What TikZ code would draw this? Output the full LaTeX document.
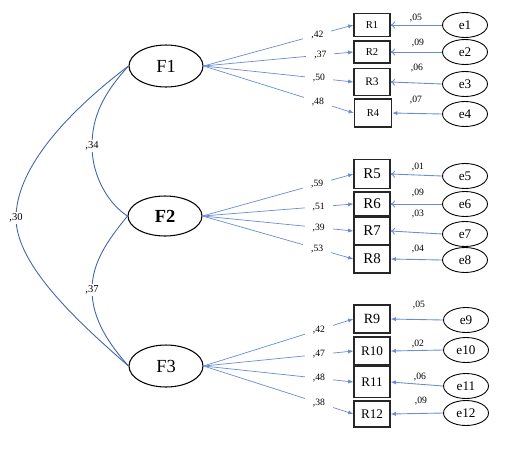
\documentclass[tikz,border=0pt]{standalone}
\usepackage{fontspec}
\setmainfont{Liberation Serif}
\usetikzlibrary{arrows.meta,shapes.geometric}
\definecolor{loadblue}{RGB}{105,140,215}
\definecolor{covblue}{RGB}{65,100,170}
\begin{document}
\begin{tikzpicture}[
    x=0.02cm, y=-0.02cm,
    factor/.style={ellipse, draw, line width=0.6pt, minimum width=1.48cm, minimum height=0.84cm, inner sep=0pt, font=\fontsize{10.5}{12}\selectfont},
    item/.style={rectangle, draw=black!85, line width=0.7pt, minimum width=0.72cm, minimum height=0.54cm, inner sep=0pt},
    err/.style={ellipse, draw, line width=0.5pt, minimum width=0.9cm, minimum height=0.5cm, inner sep=0pt, font=\fontsize{7.5}{9}\selectfont},
    coef/.style={fill=white, inner sep=1pt, font=\fontsize{5.5}{6}\selectfont},
    lcoef/.style={coef, inner xsep=4.5pt},
    load/.style={draw=loadblue, line width=0.4pt, -{Latex[length=3pt,width=2.4pt]}},
    errarr/.style={draw=loadblue, line width=0.5pt, -{Latex[length=3pt,width=2.4pt]}},
    errarro/.style={draw=loadblue, line width=0.5pt, -{To[length=2.5pt,width=4pt]}},
    cov/.style={draw=covblue, line width=0.5pt}
]
\useasboundingbox (0,0) rectangle (523,450);

% Faktoren
\node[factor] at (166,66) (F1) {F1};
\node[factor, minimum height=0.8cm, font=\fontsize{10.5}{12}\selectfont\bfseries] at (165,216) (F2) {F2};
\node[factor] at (166,366) (F3) {F3};

% Items F1
\node[item, minimum height=0.46cm, font=\fontsize{6}{7}\selectfont] at (372,25) (R1) {R1};
\node[item, minimum height=0.44cm, font=\fontsize{6}{7}\selectfont] at (372,52) (R2) {R2};
\node[item, font=\fontsize{6.5}{7}\selectfont] at (372,82) (R3) {R3};
\node[item, minimum width=0.74cm, minimum height=0.56cm, font=\fontsize{6}{7}\selectfont] at (373,113) (R4) {R4};
% Items F2
\node[item, minimum height=0.58cm, font=\fontsize{8.5}{10}\selectfont] at (372,174) (R5) {R5};
\node[item, minimum height=0.48cm, font=\fontsize{8.5}{10}\selectfont] at (372,204) (R6) {R6};
\node[item, font=\fontsize{8.5}{10}\selectfont] at (372,231) (R7) {R7};
\node[item, minimum height=0.56cm, font=\fontsize{8.5}{10}\selectfont] at (372,259) (R8) {R8};
% Items F3
\node[item, minimum height=0.56cm, font=\fontsize{8}{9}\selectfont] at (372,319) (R9) {R9};
\node[item, minimum height=0.56cm, font=\fontsize{7.5}{9}\selectfont] at (372,351) (R10) {R10};
\node[item, minimum height=0.62cm, font=\fontsize{7.5}{9}\selectfont] at (372,382) (R11) {R11};
\node[item, minimum height=0.52cm, font=\fontsize{7.5}{9}\selectfont] at (372,414) (R12) {R12};

% Fehlerterme
\node[err] at (465,25) (e1) {e1};
\node[err] at (465,52) (e2) {e2};
\node[err] at (465,84) (e3) {e3};
\node[err] at (465,114) (e4) {e4};
\node[err] at (465,176) (e5) {e5};
\node[err] at (465,204) (e6) {e6};
\node[err] at (465,234) (e7) {e7};
\node[err] at (465,260) (e8) {e8};
\node[err] at (466,320) (e9) {e9};
\node[err] at (466,350) (e10) {e10};
\node[err] at (466,386) (e11) {e11};
\node[err] at (466,413) (e12) {e12};

% Ladungen F1
\draw[load] (F1.east) -- node[lcoef, pos=0.76] (l1) {,42} (R1.west);
\draw[load] (F1.east) -- node[lcoef, pos=0.78] (l2) {,37} (R2.west);
\draw[load] (F1.east) -- node[lcoef, pos=0.77] (l3) {,50} (R3.west);
\draw[load] (F1.east) -- node[lcoef, pos=0.76] (l4) {,48} (R4.west);
% Ladungen F2
\draw[load] (F2.east) -- node[lcoef, pos=0.76] (l5) {,59} (R5.west);
\draw[load] (F2.east) -- node[lcoef, pos=0.77] (l6) {,51} (R6.west);
\draw[load] (F2.east) -- node[lcoef, pos=0.77] (l7) {,39} (R7.west);
\draw[load] (F2.east) -- node[lcoef, pos=0.76] (l8) {,53} (R8.west);
% Ladungen F3
\draw[load] (F3.east) -- node[lcoef, pos=0.77] (l9) {,42} (R9.west);
\draw[load] (F3.east) -- node[lcoef, pos=0.77] (l10) {,47} (R10.west);
\draw[load] (F3.east) -- node[lcoef, pos=0.77] (l11) {,48} (R11.west);
\draw[load] (F3.east) -- node[lcoef, pos=0.77] (l12) {,38} (R12.west);

% Fehlerpfeile
\draw[errarro] (e1.west) -- (R1.east);
\draw[errarro] (e2.west) -- (R2.east);
\draw[errarro] (e3.west) -- (R3.east);
\draw[errarr] (e4.west) -- (R4.east);
\draw[errarro] (e5.west) -- (R5.east);
\draw[errarro] (e6.west) -- (R6.east);
\draw[errarro] (e7.west) -- (R7.east);
\draw[errarr] (e8.west) -- (R8.east);
\draw[errarr] (e9.west) -- (R9.east);
\draw[errarr] (e10.west) -- (R10.east);
\draw[errarr] (e11.west) -- (R11.east);
\draw[errarr] (e12.west) -- (R12.east);
% Fehlervarianzen
\node[coef, fill=none] at (416,18) (v1) {,05};
\node[coef, fill=none] at (418,43) (v2) {,09};
\node[coef, fill=none] at (417,68) (v3) {,06};
\node[coef, fill=none] at (416,100) (v4) {,07};
\node[coef, fill=none] at (418,167) (v5) {,01};
\node[coef, fill=none] at (418,193) (v6) {,09};
\node[coef, fill=none] at (418,214) (v7) {,03};
\node[coef, fill=none] at (418,249) (v8) {,04};
\node[coef, fill=none] at (419,305) (v9) {,05};
\node[coef, fill=none] at (418,344) (v10) {,02};
\node[coef, fill=none] at (420,377) (v11) {,06};
\node[coef, fill=none] at (421,401) (v12) {,09};

% Kovarianzen
\coordinate (k12) at (92,146);
\coordinate (k23) at (92,290);
\coordinate (k13) at (16,218);
\draw[cov] (F1.west) .. controls (102,95) and (92,118) .. (k12) .. controls (92,178) and (110,205) .. (F2.west);
\draw[cov] (F2.west) .. controls (108,240) and (92,262) .. (k23) .. controls (92,320) and (110,345) .. (F3.west);
\draw[cov] (F1.west) .. controls (60,118) and (16,172) .. (k13) .. controls (16,265) and (78,322) .. (F3.west);
\node[coef, font=\fontsize{6}{7}\selectfont] at (k12) (c12) {,34};
\node[coef, font=\fontsize{6}{7}\selectfont] at (k23) (c23) {,37};
\node[coef, font=\fontsize{6}{7}\selectfont] at (k13) (c13) {,30};
\end{tikzpicture}
\end{document}
